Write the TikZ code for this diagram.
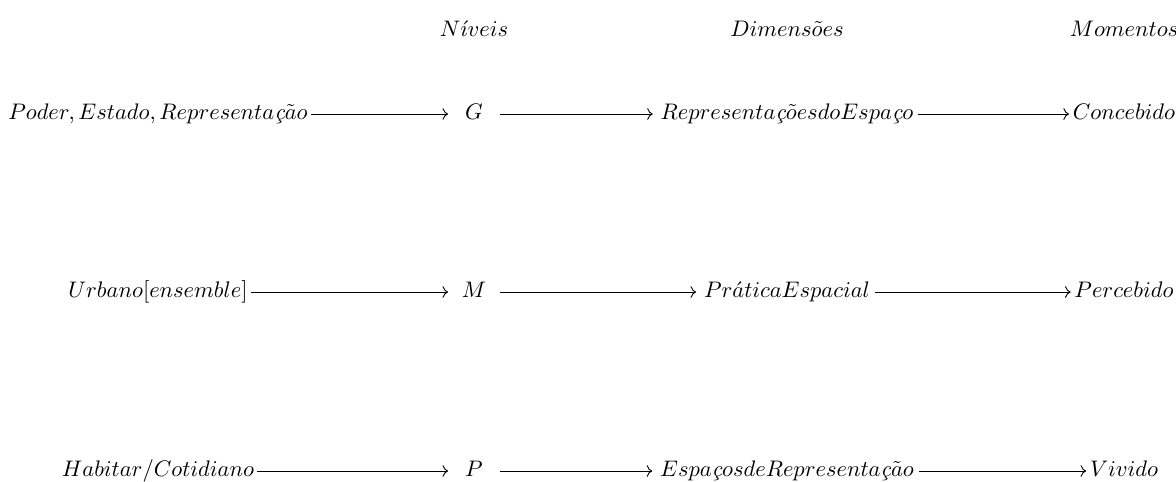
\documentclass[tikz,border=0pt]{standalone}
\usetikzlibrary{arrows.meta}
\begin{document}
\begin{tikzpicture}[x=0.4444pt,y=-0.4444pt,
  lbl/.style={inner sep=0pt, text height=7.5pt, text depth=2.5pt},
  mid/.style={lbl, minimum width=22.6pt},
  arr/.style={->, line width=0.4pt}]
\useasboundingbox (0,0) rectangle (1176,481);
% headers
\node[lbl] (h2) at (474,31) {$N\acute{\imath}veis$};
\node[lbl] (h3) at (787,31) {$Dimens\tilde{o}es$};
\node[lbl] (h4) at (1124,31) {$Momentos$};
% row 1
\node[lbl] (a1) at (158,114) {$Poder, Estado, Representa\mbox{\itshape ç}\tilde{a}o$};
\node[mid] (a2) at (474,114) {$G$};
\node[lbl] (a3) at (787,114) {$Representa\mbox{\itshape ç}\tilde{o}esdoEspa\mbox{\itshape ç}o$};
\node[lbl] (a4) at (1124,114) {$Concebido$};
% row 2
\node[lbl] (b1) at (158,292) {$Urbano[ensemble]$};
\node[mid] (b2) at (474,292) {$M$};
\node[lbl] (b3) at (787,292) {$Pr\acute{a}ticaEspacial$};
\node[lbl] (b4) at (1124,292) {$Percebido$};
% row 3
\node[lbl] (c1) at (158,471) {$Habitar/Cotidiano$};
\node[mid] (c2) at (474,471) {$P$};
\node[lbl] (c3) at (787,471) {$Espa\mbox{\itshape ç}osdeRepresenta\mbox{\itshape ç}\tilde{a}o$};
\node[lbl] (c4) at (1124,471) {$Vivido$};
% arrows
\foreach \r in {a,b,c}{
  \draw[arr, shorten <=1.2pt] (\r1.east) -- (\r2.west);
  \draw[arr, shorten >=3.3pt] (\r2.east) -- (\r3.west);
  \draw[arr, shorten <=2pt, shorten >=1.5pt] (\r3.east) -- (\r4.west);
}
\end{tikzpicture}
\end{document}
